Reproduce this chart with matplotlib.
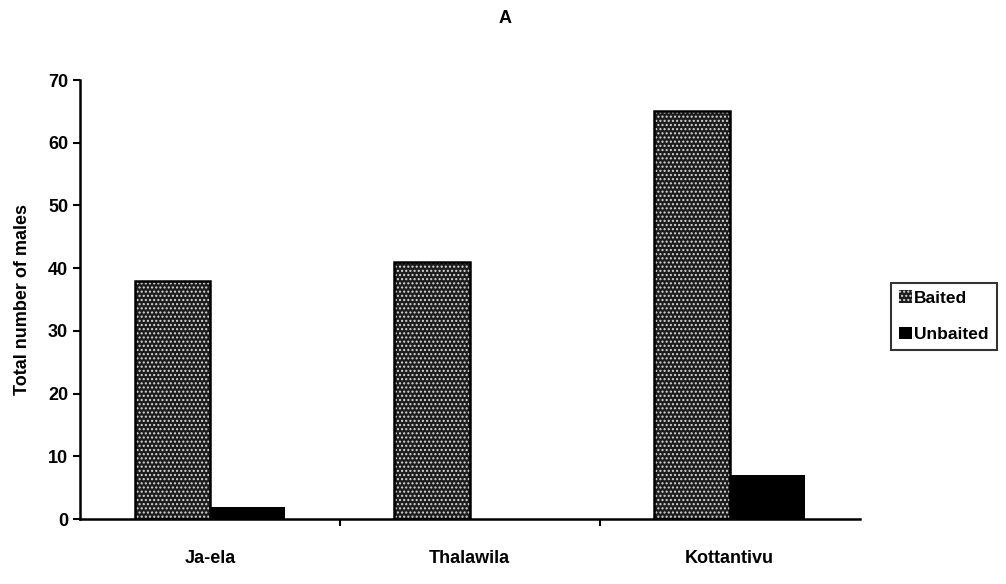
import numpy as np
import matplotlib
matplotlib.use('agg')
import matplotlib.pyplot as plt
from matplotlib.patches import Patch

# values
sites = ['Ja-ela', 'Thalawila', 'Kottantivu']
baited = [38, 41, 65]
unbaited = [2, 0, 7]
yticks = [0, 10, 20, 30, 40, 50, 60, 70]

plt.rcParams['font.family'] = ['Liberation Sans', 'DejaVu Sans']
plt.rcParams['font.weight'] = 'bold'
plt.rcParams['hatch.linewidth'] = 1.0

fig1 = plt.figure(figsize=(10.06, 5.84), dpi=100)
ax1 = fig1.add_axes([0.0795, 0.111, 0.775, 0.752])

x = np.arange(len(sites))
w = 0.29

# baited: dark fill with white dot pattern, then black outline on top
ax1.bar(x - w/2, baited, w, color='#1c1c1c', edgecolor='#d8d8d8', hatch='....', linewidth=0)
ax1.bar(x - w/2, baited, w, color='none', edgecolor='black', linewidth=1.8)
ax1.bar(x + w/2, unbaited, w, color='black', edgecolor='black', linewidth=0)

ax1.set_xlim(-0.5, 2.5)
ax1.set_ylim(0, 70)
ax1.set_yticks(yticks)
ax1.tick_params(axis='y', labelsize=13, length=5, width=1.5, direction='out')

# category labels centred, tick marks at category boundaries
ax1.set_xticks(x)
ax1.set_xticklabels(sites, fontsize=13, fontweight='bold')
ax1.tick_params(axis='x', which='major', length=0, pad=22)
ax1.set_xticks([0.5, 1.5], minor=True)
ax1.tick_params(axis='x', which='minor', length=5, width=1.5, direction='out')

for s in ['top', 'right']:
    ax1.spines[s].set_visible(False)
for s in ['left', 'bottom']:
    ax1.spines[s].set_linewidth(1.8)

ax1.set_ylabel('Total number of males', fontsize=13, fontweight='bold', labelpad=12)
fig1.text(0.502, 0.968, 'A', ha='center', va='center', fontsize=13, fontweight='bold')

handles = [Patch(facecolor='#1c1c1c', edgecolor='#d8d8d8', hatch='....', linewidth=0),
           Patch(facecolor='black', edgecolor='black', linewidth=0)]
leg = ax1.legend(handles, ['Baited', 'Unbaited'], loc='center left', bbox_to_anchor=(1.04, 0.462),
                 fontsize=12.5, frameon=True, fancybox=False, edgecolor='black',
                 handlelength=0.75, handleheight=0.75, handletextpad=0.15, borderpad=0.45,
                 labelspacing=1.2, borderaxespad=0)
leg.get_frame().set_linewidth(1.5)
for t in leg.get_texts():
    t.set_fontweight('bold')

fig1.savefig('out.png', dpi=100)
